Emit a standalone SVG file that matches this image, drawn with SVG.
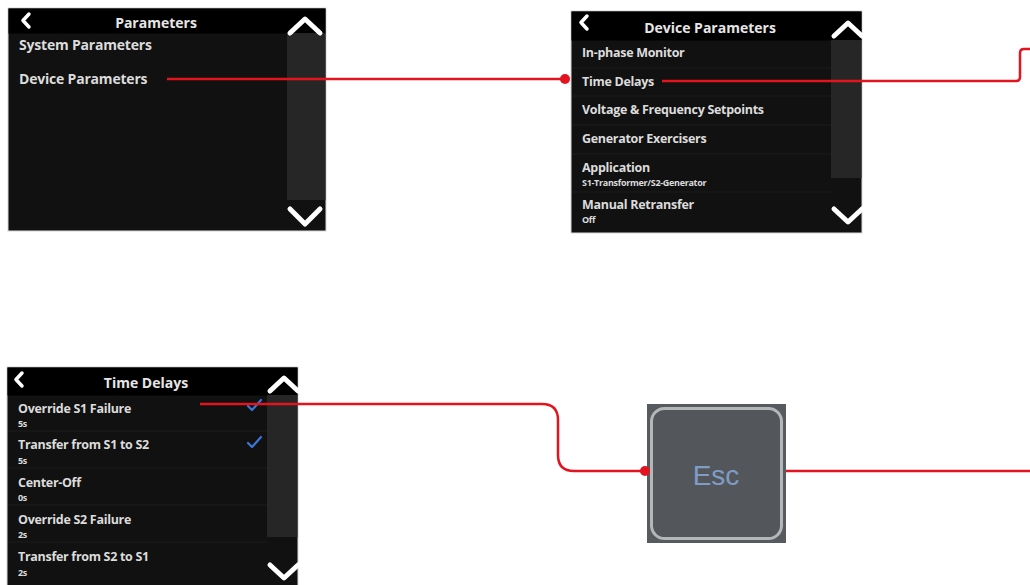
<svg xmlns="http://www.w3.org/2000/svg" width="1030" height="585" viewBox="0 0 1030 585">
<style>
.panel{fill:#111111;stroke:#d8d8d8;stroke-width:1}
.head{fill:#000000}
.scroll{fill:#262626}
.title{font-family:"Open Sans","Liberation Sans",sans-serif;font-weight:700;font-size:14px;fill:#e6e6e6;text-anchor:middle}
.item{font-family:"Open Sans","Liberation Sans",sans-serif;font-weight:700;font-size:12.5px;fill:#dcdcdc;letter-spacing:-0.3px}
.item-lg{font-family:"Open Sans","Liberation Sans",sans-serif;font-weight:700;font-size:14px;fill:#dcdcdc;letter-spacing:-0.2px}
.sub{font-family:"Open Sans","Liberation Sans",sans-serif;font-weight:700;font-size:9px;fill:#dcdcdc;letter-spacing:-0.3px}
.chev{fill:none;stroke:#ffffff;stroke-width:5;stroke-linecap:round;stroke-linejoin:round}
.back{fill:none;stroke:#ffffff;stroke-width:3.5;stroke-linecap:round;stroke-linejoin:round}
.sep{stroke:#1c1c1c;stroke-width:1}
.check{fill:none;stroke:#3b78d8;stroke-width:2.2;stroke-linecap:round;stroke-linejoin:round}
.wire{fill:none;stroke:#e3141f;stroke-width:2.5}
.dot{fill:#e3141f}
</style>
<rect width="1030" height="585" fill="#ffffff"/>

<g id="parameters-screen">
<rect class="panel" x="8" y="8" width="318" height="223"/>
<rect class="head" x="8.5" y="8.5" width="317" height="25"/>
<rect class="scroll" x="287" y="33" width="38.5" height="167"/>
<polyline class="back" points="29,14 23,20.5 29,27"/>
<text class="title" x="156" y="28">Parameters</text>
<polyline class="chev" points="290,33 305,19 320,33"/>
<polyline class="chev" points="290,209 305,224 320,209"/>
<text class="item-lg" x="19" y="50">System Parameters</text>
<text class="item-lg" x="19" y="84">Device Parameters</text>
</g>

<g id="device-parameters-screen">
<rect class="panel" x="571" y="11" width="291" height="222"/>
<rect class="head" x="571.5" y="11.5" width="290" height="29"/>
<rect class="scroll" x="831" y="40" width="30.5" height="138"/>
<line class="sep" x1="572" y1="68" x2="831" y2="68"/>
<line class="sep" x1="572" y1="96" x2="831" y2="96"/>
<line class="sep" x1="572" y1="125" x2="831" y2="125"/>
<line class="sep" x1="572" y1="154" x2="831" y2="154"/>
<line class="sep" x1="572" y1="192" x2="831" y2="192"/>
<polyline class="back" points="587,16 581,22.5 587,29"/>
<text class="title" x="710" y="33">Device Parameters</text>
<polyline class="chev" points="834,36 848,23 862,36"/>
<polyline class="chev" points="834,209 848,222 862,209"/>
<text class="item" x="582" y="57">In-phase Monitor</text>
<text class="item" x="582" y="86">Time Delays</text>
<text class="item" x="582" y="114">Voltage &amp; Frequency Setpoints</text>
<text class="item" x="582" y="143">Generator Exercisers</text>
<text class="item" x="582" y="172">Application</text>
<text class="sub" x="582" y="186">S1-Transformer/S2-Generator</text>
<text class="item" x="582" y="209">Manual Retransfer</text>
<text class="sub" x="582" y="223">Off</text>
</g>

<g id="time-delays-screen">
<rect class="panel" x="7" y="367" width="291" height="220"/>
<rect class="head" x="7.5" y="367.5" width="290" height="28"/>
<rect class="scroll" x="267" y="395" width="30.5" height="142"/>
<line class="sep" x1="8" y1="431" x2="267" y2="431"/>
<line class="sep" x1="8" y1="468" x2="267" y2="468"/>
<line class="sep" x1="8" y1="505" x2="267" y2="505"/>
<line class="sep" x1="8" y1="542" x2="267" y2="542"/>
<polyline class="back" points="22,373 16,379.5 22,386"/>
<text class="title" x="146" y="388">Time Delays</text>
<polyline class="chev" points="270,391 284,378 298,391"/>
<polyline class="chev" points="270,565 284,578 298,565"/>
<text class="item" x="18" y="413">Override S1 Failure</text>
<text class="sub" x="18" y="427">5s</text>
<text class="item" x="18" y="449">Transfer from S1 to S2</text>
<text class="sub" x="18" y="464">5s</text>
<text class="item" x="18" y="487">Center-Off</text>
<text class="sub" x="18" y="501">0s</text>
<text class="item" x="18" y="524">Override S2 Failure</text>
<text class="sub" x="18" y="538">2s</text>
<text class="item" x="18" y="561">Transfer from S2 to S1</text>
<text class="sub" x="18" y="576">2s</text>
<polyline class="check" points="248,406 252,410 261,400"/>
<polyline class="check" points="248,443 252,447 261,437"/>
</g>

<g id="esc-button">
<rect x="647" y="404" width="139" height="139" fill="#575a5f"/>
<rect x="651.5" y="408.5" width="130" height="130" rx="13" fill="#53575c" stroke="#b4b6b8" stroke-width="3"/>
<text x="716" y="485" font-family="Liberation Sans, Arial, sans-serif" font-size="28" fill="#7f9cc6" text-anchor="middle">Esc</text>
</g>

<g id="connectors">
<path class="wire" d="M167,79 H565"/>
<circle class="dot" cx="565" cy="79" r="5"/>
<path class="wire" d="M662,81 H1016 Q1020,81 1020,77 V53 Q1020,49 1024,49 H1030"/>
<path class="wire" d="M200,404 H542 Q558,404 558,420 V455 Q558,471 574,471 H645"/>
<circle class="dot" cx="645" cy="471" r="5"/>
<path class="wire" d="M786,471 H1030"/>
</g>
</svg>
